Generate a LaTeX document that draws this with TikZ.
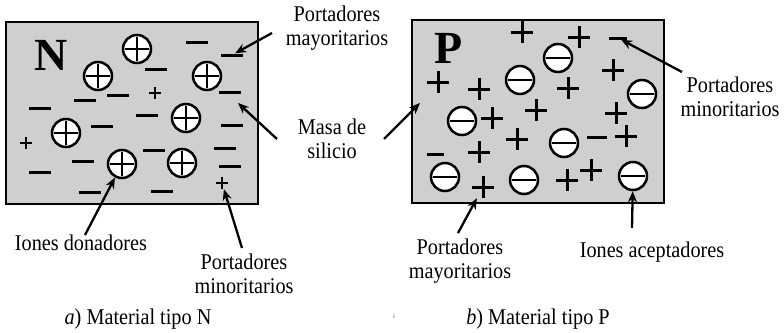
\documentclass[tikz,border=0pt]{standalone}
\usepackage{fontspec}
\setmainfont{Liberation Serif}
\newfontfamily\lblfont{Liberation Serif}[FakeStretch=0.9]
\usetikzlibrary{arrows.meta}
\begin{document}
\begin{tikzpicture}[x=1pt,y=-1pt,
  lbl/.style={font=\lblfont\fontsize{22.5}{24}\selectfont, align=center, inner sep=0pt},
  slab/.style={draw, line width=2.8pt, fill=black!19, inner sep=0pt},
  ion/.style={circle, draw, line width=2.5pt, fill=white, minimum size=28pt, inner sep=0pt},
  donor/.style={ion, path picture={\draw[line width=2.5pt]
     ([xshift=-12pt]path picture bounding box.center) -- ([xshift=12pt]path picture bounding box.center)
     ([yshift=-12pt]path picture bounding box.center) -- ([yshift=12pt]path picture bounding box.center);}},
  acceptor/.style={ion, path picture={\draw[line width=2.5pt]
     ([xshift=-12pt]path picture bounding box.center) -- ([xshift=12pt]path picture bounding box.center);}},
  elec/.style={fill=black, minimum width=22pt, minimum height=3pt, inner sep=0pt},
  hole/.style={minimum size=22pt, inner sep=0pt, path picture={\draw[line width=3pt]
     (path picture bounding box.west) -- (path picture bounding box.east)
     (path picture bounding box.north) -- (path picture bounding box.south);}},
  shole/.style={minimum size=12pt, inner sep=0pt, path picture={\draw[line width=2.6pt]
     (path picture bounding box.west) -- (path picture bounding box.east)
     (path picture bounding box.north) -- (path picture bounding box.south);}},
  arr/.style={line width=2.3pt, -{Stealth[length=11pt,width=9pt]}}
]
\useasboundingbox (0,0) rectangle (784,332);

% ---------- N material ----------
\node[slab, minimum width=252pt, minimum height=182pt] (boxN) at (132,113) {};
\node[font=\fontsize{46}{46}\selectfont\bfseries, inner sep=0pt] (letN) at (51,55) {N};

\foreach \n/\x/\y in {d1/137/49, d2/98/76, d3/207/76, d4/186/118, d5/66/133, d6/122/164, d7/182/163}
  \node[donor] (\n) at (\x,\y) {};

\foreach \n/\x/\y in {e1/197/42, e2/232/55, e3/156/69, e4/85/100, e5/118/95, e6/40/108,
  e7/230/92, e8/147/115, e9/102/126, e10/232/125, e11/225/148, e12/154/150, e13/83/161,
  e14/40/172, e15/230/166, e16/90/192, e17/162/191}
  \node[elec] (\n) at (\x,\y) {};

\foreach \n/\x/\y in {h1/155/93, h2/26/143, h3/222/183}
  \node[shole] (\n) at (\x,\y) {};

% ---------- P material ----------
\node[slab, minimum width=252pt, minimum height=183pt] (boxP) at (538,111.5) {};
\node[font=\fontsize{46}{46}\selectfont\bfseries, inner sep=0pt] (letP) at (449,48) {P};

\foreach \n/\x/\y in {a1/558/58, a2/520/80, a3/642/94, a4/462/121, a5/564/143, a6/445/177, a7/524/180, a8/633/176}
  \node[acceptor] (\n) at (\x,\y) {};

\foreach \n/\x/\y in {p1/522/32, p2/579/37, p3/438/82, p4/479/89, p5/568/88, p6/613/70,
  p7/536/110, p8/492/118, p9/616/113, p10/517/139, p11/626/136, p12/479/152,
  p13/483/187, p14/591/170, p15/567/180}
  \node[hole] (\n) at (\x,\y) {};

\node[elec, minimum width=18pt] (m1) at (618,38) {};
\node[elec, minimum width=20pt] (m2) at (597,137) {};
\node[elec, minimum width=17pt] (m3) at (435,154) {};

% ---------- labels ----------
\node[lbl] (tMayN) at (337,28) {Portadores\\mayoritarios};
\node[lbl] (tMasa) at (332,139) {Masa de\\silicio};
\node[lbl] (tMinP) at (730,97) {Portadores\\minoritarios};
\node[lbl] (tDon) at (81,243) {Iones donadores};
\node[lbl] (tMinN) at (244,274) {Portadores\\minoritarios};
\node[lbl] (tMayP) at (460,261) {Portadores\\mayoritarios};
\node[lbl] (tAcc) at (652,252) {Iones aceptadores};
\node[lbl] (capA) at (138,319) {\textit{a}) Material tipo N};
\node[lbl] (capB) at (538,319) {\textit{b}) Material tipo P};
\node[font=\fontsize{7}{7}\selectfont, inner sep=0pt, text=black!60] (tick) at (394,316) {i};

% ---------- arrows ----------
\coordinate (c1) at (272,33);
\coordinate (c2) at (277,139);
\coordinate (c3) at (384,139);
\coordinate (c4) at (85,235);
\coordinate (c5) at (242,248);
\coordinate (c6) at (682,72);
\coordinate (c7) at (458,233);
\coordinate (c8) at (632,228);
\coordinate (mL) at (238,103);
\coordinate (mR) at (420,103);

\draw[arr] (c1) -- (e2);
\draw[arr] (c2) -- (mL);
\draw[arr] (c3) -- (mR);
\draw[arr] (c4) -- (d6);
\draw[arr] (c5) -- (h3);
\draw[arr] (c6) -- (m1);
\draw[arr] (c7) -- (p13);
\draw[arr] (c8) -- (a8);
\end{tikzpicture}
\end{document}
